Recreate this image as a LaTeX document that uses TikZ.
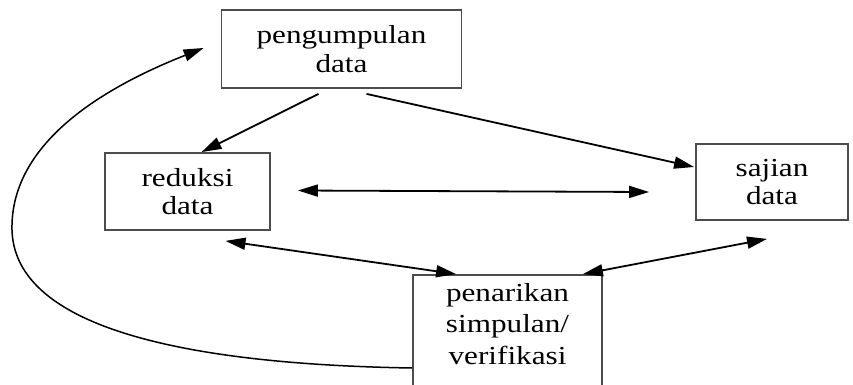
\documentclass[tikz,border=0pt]{standalone}
\usepackage{fontspec}
\setmainfont{Liberation Serif}[FakeStretch=1.2]
\usetikzlibrary{arrows.meta,calc}
\begin{document}
\begin{tikzpicture}[x=1pt,y=-1pt,
  box/.style={draw=black!70,line width=1.8pt,align=center,inner sep=0pt,
    font=\fontsize{26}{28.5}\selectfont,text=black},
  link/.style={line width=1.8pt,draw=black,-{Triangle[length=20pt,width=12pt]}},
  dlink/.style={line width=1.8pt,draw=black,{Triangle[length=20pt,width=12pt]}-{Triangle[length=20pt,width=12pt]}}]
\clip (0,0) rectangle (853,385);
\fill[white] (0,0) rectangle (853,385);
\node[box,minimum width=240pt,minimum height=78pt] (peng) at (341.5,49) {pengumpulan\\data};
\node[box,minimum width=165pt,minimum height=77pt] (red) at (187.5,191.5) {reduksi\\data};
\node[box,minimum width=152pt,minimum height=76pt] (saj) at (772,182) {sajian\\data};
\node[box,minimum width=189pt,minimum height=118pt,font=\fontsize{26}{31.5}\selectfont] (pen) at (507.5,334) {penarikan\\simpulan/\\verifikasi\\[-11pt]};
% connector end points
\coordinate (p1) at ($(peng.south)+(-23,5)$);
\coordinate (r1) at ($(red.north)+(14,0)$);
\coordinate (p2) at ($(peng.south)+(25,5)$);
\coordinate (s1) at ($(saj.west)+(-1,-15)$);
\coordinate (rm) at ($(red.east)+(27,-1)$);
\coordinate (sm) at ($(saj.west)+(-46,10)$);
\coordinate (r2) at ($(red.south)+(38,10)$);
\coordinate (n1) at ($(pen.north west)+(44,0)$);
\coordinate (n2) at ($(pen.north east)+(-20,0)$);
\coordinate (s2) at ($(saj.south)+(-5,18)$);
\coordinate (n3) at ($(pen.west)+(0,34)$);
\coordinate (p3) at ($(peng.west)+(-17,-1)$);
\draw[link] (p1) -- (r1);
\draw[link] (p2) -- (s1);
\draw[dlink] (rm) -- (sm);
\draw[dlink] (r2) -- (n1);
\draw[dlink] (n2) -- (s2);
\draw[link,line width=1.5pt] (n3) .. controls (230,365) and (15,340) .. (12,230)
  .. controls (10,140) and (110,85) .. (p3);
\end{tikzpicture}
\end{document}
